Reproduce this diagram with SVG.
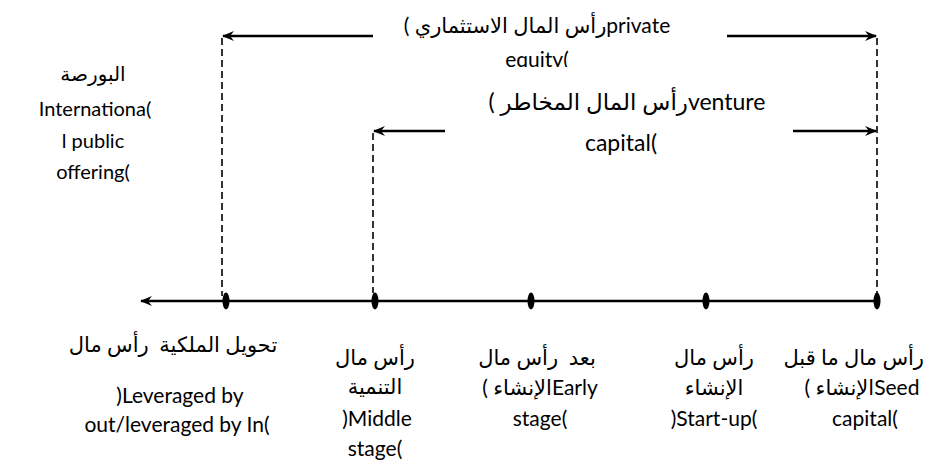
<svg xmlns="http://www.w3.org/2000/svg" width="928" height="464" viewBox="0 0 928 464">
<style>
text{font-family:Lato,"DejaVu Sans",sans-serif;font-size:21px;fill:#000;text-anchor:middle;white-space:pre;direction:ltr}
.big{font-size:23px}
.sm{font-size:20px}
.end{text-anchor:end}
.ln{stroke:#000;stroke-width:2.5;fill:none}
.ds{stroke:#000;stroke-width:1.6;fill:none;stroke-dasharray:7 4}
</style>
<defs>
<marker id="ah" viewBox="0 0 12 10" refX="11" refY="5" markerWidth="12" markerHeight="10" markerUnits="userSpaceOnUse" orient="auto">
<path d="M0,0 L12,5 L0,10 L4,5 Z" fill="#000"/>
</marker>
<clipPath id="clipEq"><rect x="400" y="40" width="300" height="27"/></clipPath>
</defs>
<rect width="928" height="464" fill="#fff"/>
<g id="connectors">
<line class="ln" x1="877" y1="301" x2="141" y2="301" marker-end="url(#ah)"/>
<line class="ln" x1="373" y1="36" x2="223" y2="36" marker-end="url(#ah)"/>
<line class="ln" x1="727" y1="36" x2="876" y2="36" marker-end="url(#ah)"/>
<line class="ln" x1="445" y1="131" x2="374" y2="131" marker-end="url(#ah)"/>
<line class="ln" x1="793" y1="131" x2="876" y2="131" marker-end="url(#ah)"/>
<line class="ds" x1="222" y1="38" x2="222" y2="296"/>
<line class="ds" x1="373" y1="133" x2="373" y2="293"/>
<line class="ds" x1="877" y1="38" x2="877" y2="293"/>
</g>
<g id="dots">
<ellipse cx="226" cy="301" rx="3.5" ry="8.5"/>
<ellipse cx="375" cy="301" rx="3.5" ry="8.5"/>
<ellipse cx="531" cy="301" rx="3.5" ry="8.5"/>
<ellipse cx="706" cy="301" rx="3.5" ry="8.5"/>
<ellipse cx="877" cy="301" rx="3.5" ry="8.5"/>
</g>
<g id="private-equity">
<text x="537" y="33">(&#x200E; رأس المال الاستثماريprivate</text>
<text x="537" y="67" clip-path="url(#clipEq)">equity(</text>
</g>
<g id="venture-capital">
<text class="big" x="627" y="110">(&#x200E; رأس المال المخاطرventure</text>
<text class="big" x="621" y="151">capital(</text>
</g>
<g id="ipo">
<text class="sm" x="93" y="81">البورصة</text>
<text class="sm" x="95" y="116">Internationa(</text>
<text class="sm" x="93" y="148">l public</text>
<text class="sm" x="93" y="179">offering(</text>
</g>
<g id="lbo">
<text x="173" y="352">تحويل الملكية  رأس مال</text>
<text x="180" y="403">)Leveraged by</text>
<text x="177" y="432">out/leveraged by In(</text>
</g>
<g id="middle">
<text x="375" y="365">رأس مال</text>
<text x="375" y="394">التنمية</text>
<text x="377" y="426">)Middle</text>
<text x="375" y="456">stage(</text>
</g>
<g id="early">
<text x="537" y="365">بعد  رأس مال</text>
<text x="540" y="395">(&#x200E; الإنشاءEarly</text>
<text x="540" y="426">stage(</text>
</g>
<g id="startup">
<text x="714" y="365">رأس مال</text>
<text x="714" y="395">الإنشاء</text>
<text x="714" y="426">)Start-up(</text>
</g>
<g id="seed">
<text class="end" x="924" y="365">رأس مال ما قبل</text>
<text x="862" y="395">(&#x200E; الإنشاءSeed</text>
<text x="865" y="426">capital(</text>
</g>
</svg>
